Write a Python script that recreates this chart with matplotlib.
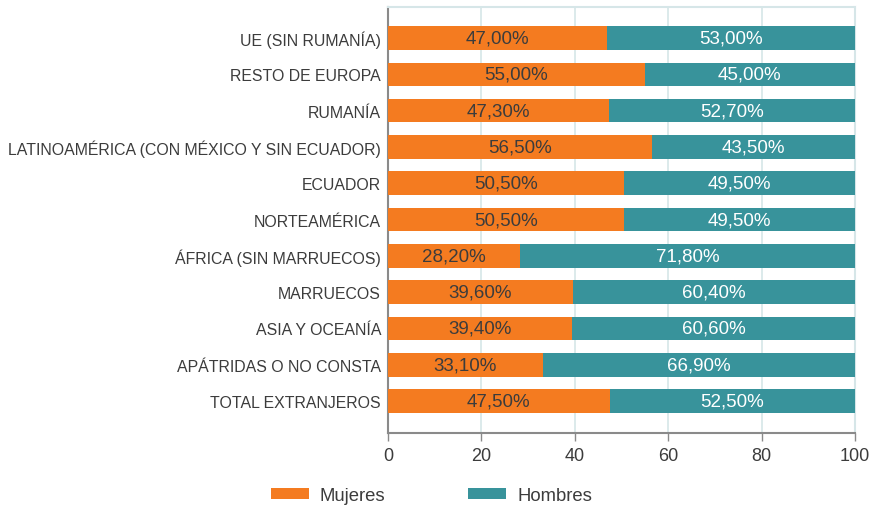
import matplotlib
matplotlib.use("Agg")
import matplotlib.pyplot as plt
from matplotlib.patches import Patch

categories = ["UE (SIN RUMANÍA)", "RESTO DE EUROPA", "RUMANÍA",
              "LATINOAMÉRICA (CON MÉXICO Y SIN ECUADOR)", "ECUADOR", "NORTEAMÉRICA",
              "ÁFRICA (SIN MARRUECOS)", "MARRUECOS", "ASIA Y OCEANÍA",
              "APÁTRIDAS O NO CONSTA", "TOTAL EXTRANJEROS"]
mujeres = [47.0, 55.0, 47.3, 56.5, 50.5, 50.5, 28.2, 39.6, 39.4, 33.1, 47.5]
hombres = [53.0, 45.0, 52.7, 43.5, 49.5, 49.5, 71.8, 60.4, 60.6, 66.9, 52.5]
series_names = ["Mujeres", "Hombres"]
xticks = [0, 20, 40, 60, 80, 100]

ORANGE = "#F47B20"
TEAL = "#38939B"
GRID = "#D6E6E8"
AXIS = "#8A8A8A"
TXT = "#3C3C3C"

plt.rcParams['font.family'] = ['Liberation Sans', 'DejaVu Sans']

fig = plt.figure(figsize=(8.73, 5.06), dpi=100)
ax = fig.add_axes([388/873, 1-434/506, (855-388)/873, (434-8)/506])

y = list(range(len(categories)))
h = 0.65
ax.barh(y, mujeres, height=h, color=ORANGE, zorder=3)
ax.barh(y, hombres, left=mujeres, height=h, color=TEAL, zorder=3)

fmt = lambda v: f"{v:.2f}".replace(".", ",") + "%"
for i in y:
    ax.text(mujeres[i] / 2, i, fmt(mujeres[i]), ha="center", va="center",
            color=TXT, fontsize=13.5, zorder=4)
    ax.text(mujeres[i] + hombres[i] / 2, i, fmt(hombres[i]), ha="center", va="center",
            color="white", fontsize=13.5, zorder=4)

ax.set_xlim(0, 100)
ax.set_ylim(10.88, -0.854)
ax.set_yticks(y)
ax.set_yticklabels(categories, fontsize=11.4, color=TXT)
ax.set_xticks(xticks)
ax.set_xticklabels([str(t) for t in xticks], fontsize=13, color=TXT)
ax.tick_params(axis="y", length=0, pad=5)
ax.tick_params(axis="x", length=6, width=1, color=AXIS, direction="out", pad=4)
ax.xaxis.grid(True, color=GRID, linewidth=1.2, zorder=0)
ax.set_axisbelow(True)
for s in ["top", "right"]:
    ax.spines[s].set_color(GRID)
    ax.spines[s].set_linewidth(1.5)
for s in ["left", "bottom"]:
    ax.spines[s].set_color(AXIS)
    ax.spines[s].set_linewidth(1.5)

handles = [Patch(facecolor=ORANGE, label=series_names[0]),
           Patch(facecolor=TEAL, label=series_names[1])]
fig.legend(handles=handles, loc="center", bbox_to_anchor=(431.5/873, 1-496.5/506),
           ncol=2, frameon=False, fontsize=13.3, handlelength=2.05, handleheight=0.49,
           columnspacing=4.5, handletextpad=0.6, labelcolor=TXT)

fig.savefig("out.png", dpi=100)
